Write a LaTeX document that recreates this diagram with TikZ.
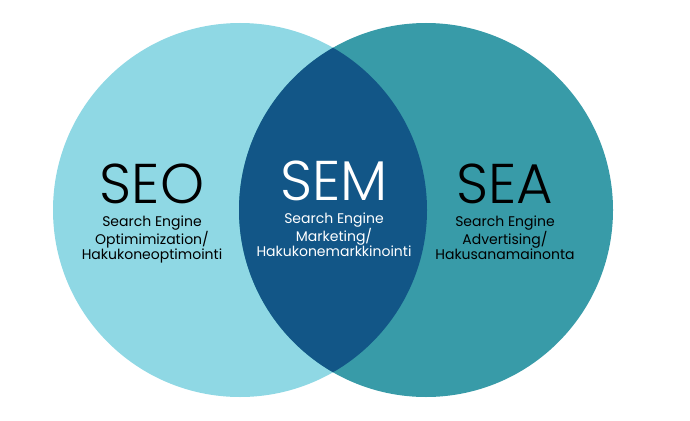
\documentclass[tikz,border=0pt]{standalone}
\usepackage{fontspec}
\setmainfont{Poppins}
\newfontfamily\lightfont{Poppins Light}
\usetikzlibrary{positioning}
\definecolor{seocol}{HTML}{8FD8E4}
\definecolor{seacol}{HTML}{389BA8}
\definecolor{semcol}{HTML}{125687}
\tikzset{
    tag/.style = {align=center, inner sep=0pt, text centered},
    bigtag/.style = {tag, font=\lightfont\fontsize{56}{56}\selectfont},
    subtag/.style = {tag, font=\fontsize{14}{15}\selectfont}
}

\begin{document}
\begin{tikzpicture}[x=1pt, y=-1pt]
    \useasboundingbox (0,0) rectangle (690,420);

    % the two sets
    \fill [seocol] (240,210) circle (187);
    \fill [seacol] (426,210) circle (187);
    \begin{scope}
        \clip (240,210) circle (187);
        \fill [semcol] (426,210) circle (187);
    \end{scope}

    % labels
    \node [bigtag, anchor=base] (seo) at (152,203) {SEO};
    \node [subtag, below=12pt of seo.south] (seotext)
        {Search Engine\\Optimimization/\\Hakukoneoptimointi};

    \node [bigtag, anchor=base, white] (sem) at (334,200) {SEM};
    \node [subtag, below=12pt of sem.south, white] (semtext)
        {Search Engine\\Marketing/\\Hakukonemarkkinointi};

    \node [bigtag, anchor=base] (sea) at (505,203) {SEA};
    \node [subtag, below=12pt of sea.south] (seatext)
        {Search Engine\\Advertising/\\Hakusanamainonta};
\end{tikzpicture}
\end{document}
